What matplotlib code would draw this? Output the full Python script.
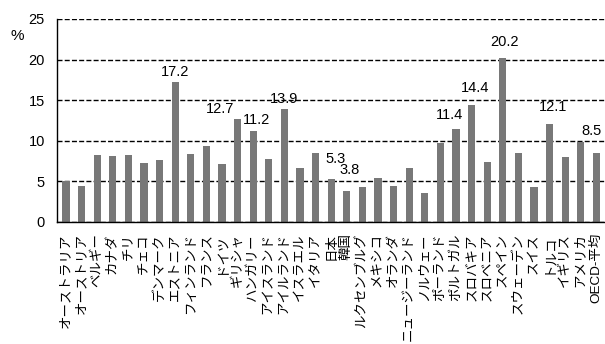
import matplotlib
matplotlib.use('Agg')
import matplotlib.pyplot as plt
import numpy as np

plt.rcParams['font.family'] = ['Liberation Sans', 'Noto Sans CJK JP', 'DejaVu Sans']

countries = ['オーストラリア', 'オーストリア', 'ベルギー', 'カナダ', 'チリ', 'チェコ',
             'デンマーク', 'エストニア', 'フィンランド', 'フランス', 'ドイツ', 'ギリシャ',
             'ハンガリー', 'アイスランド', 'アイルランド', 'イスラエル', 'イタリア', '日本',
             '韓国', 'ルクセンブルグ', 'メキシコ', 'オランダ', 'ニュージーランド', 'ノルウェー',
             'ポーランド', 'ポルトガル', 'スロバキア', 'スロベニア', 'スペイン', 'スウェーデン',
             'スイス', 'トルコ', 'イギリス', 'アメリカ', 'OECD-平均']
values = [5.1, 4.4, 8.3, 8.1, 8.3, 7.3, 7.6, 17.2, 8.4, 9.3, 7.2, 12.7,
          11.2, 7.7, 13.9, 6.6, 8.5, 5.3, 3.8, 4.3, 5.4, 4.4, 6.6, 3.6,
          9.7, 11.4, 14.4, 7.4, 20.2, 8.5, 4.3, 12.1, 8.0, 9.8, 8.5]

# labelled bars: (bar index, text, x shift, y shift of label bottom)
labels = [(7, '17.2', 0.0, 0.45), (11, '12.7', -1.1, 0.35), (12, '11.2', 0.2, 0.45),
          (14, '13.9', 0.0, 0.35), (17, '5.3', 0.3, 1.65), (18, '3.8', 0.2, 1.75),
          (25, '11.4', -0.4, 0.95), (26, '14.4', 0.2, 1.25), (28, '20.2', 0.1, 1.05),
          (31, '12.1', 0.2, 1.15), (34, '8.5', -0.3, 1.85)]

fig = plt.figure(figsize=(6.05, 3.44), dpi=100)
ax = fig.add_axes([0.0947, 0.3547, 0.9053, 0.5901])

x = np.arange(len(countries))
ax.bar(x, values, width=0.47, color='#787878', zorder=2)

for i, txt, dx, dy in labels:
    ax.text(x[i] + dx, values[i] + dy, txt, ha='center', va='bottom',
            fontsize=10.5, zorder=3)

ax.set_xlim(-0.56, 34.55)
ax.set_ylim(0, 25)
ax.set_yticks([0, 5, 10, 15, 20, 25])
ax.set_xticks(x)
ax.set_xticklabels(countries, rotation=90, fontsize=9.7)
ax.tick_params(axis='x', length=0, pad=8)
ax.tick_params(axis='y', length=0, pad=9, labelsize=10.5)

ax.yaxis.grid(True, color='black', linestyle=(0, (3.6, 1.6)), linewidth=1.0, zorder=1)
ax.set_axisbelow(True)
for s in ['top', 'right']:
    ax.spines[s].set_visible(False)
for s in ['left', 'bottom']:
    ax.spines[s].set_linewidth(1.0)
    ax.spines[s].set_color('black')

fig.text(0.028, 0.895, '%', fontsize=11, ha='center', va='center')

fig.savefig('out.png', dpi=100)
